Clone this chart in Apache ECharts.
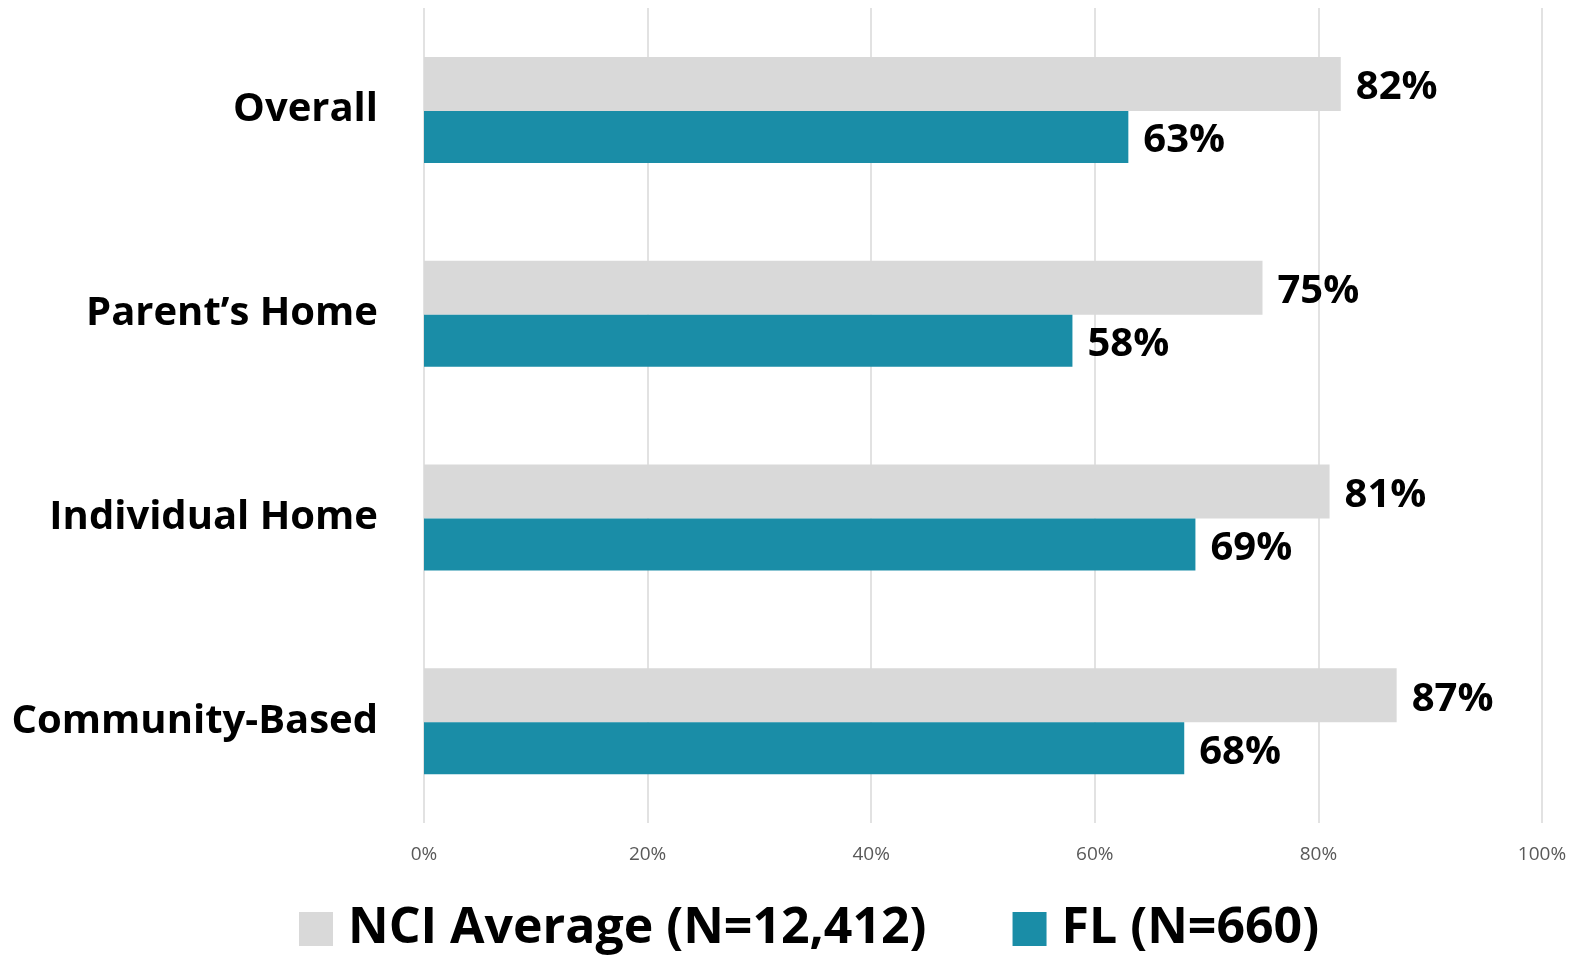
<!DOCTYPE html>
<html>
<head>
<meta charset="utf-8">
<title>NCI Average vs FL</title>
<script src="https://cdn.jsdelivr.net/npm/echarts@6/dist/echarts.min.js"></script>
<style>
    html, body { margin: 0; padding: 0; background: #fff; }
    #chart { width: 1582px; height: 956px; }
</style>
</head>
<body>
<div id="chart"></div>
<script>
    // categories, top to bottom
    var categories = ['Overall', 'Parent\u2019s Home', 'Individual Home', 'Community-Based'];
    var seriesNames = ['NCI Average (N=12,412)', 'FL (N=660)'];
    // percentages
    var nciValues = [82, 75, 81, 87];
    var flValues = [63, 58, 69, 68];
    var xTicks = [0, 20, 40, 60, 80, 100];

    var FONT = '"Open Sans", "DejaVu Sans", sans-serif';

    var myChart = echarts.init(document.getElementById('chart'));

    var labelStyle = {
        show: true,
        position: 'right',
        distance: 15,
        offset: [0, 4],
        formatter: '{c}%',
        color: '#000',
        fontFamily: FONT,
        fontWeight: 'bold',
        fontSize: 40
    };

    var option = {
        animation: false,
        grid: {
            left: 424,
            right: 40,
            top: 8,
            bottom: 133
        },
        legend: {
            left: 294,
            top: 899,
            itemWidth: 34,
            itemHeight: 34,
            itemGap: 86,
            icon: 'rect',
            textStyle: {
                color: '#000',
                fontFamily: FONT,
                fontWeight: 'bold',
                fontSize: 50,
                padding: [0, 0, 0, 10]
            },
            data: seriesNames
        },
        xAxis: {
            type: 'value',
            min: xTicks[0],
            max: xTicks[xTicks.length - 1],
            interval: 20,
            axisLine: { show: false },
            axisTick: { show: false },
            splitLine: {
                show: true,
                lineStyle: { color: '#d9d9d9', width: 1.5 }
            },
            axisLabel: {
                margin: 22,
                color: '#595959',
                fontFamily: FONT,
                fontSize: 19,
                formatter: '{value}%'
            }
        },
        yAxis: {
            type: 'category',
            inverse: true,
            data: categories,
            axisLine: { show: false },
            axisTick: { show: false },
            axisLabel: {
                margin: 46,
                color: '#000',
                fontFamily: FONT,
                fontWeight: 'bold',
                fontSize: 40,
                padding: [6, 0, 0, 0]
            }
        },
        series: [{
                name: seriesNames[0],
                type: 'bar',
                data: nciValues,
                barWidth: 54,
                barGap: '0%',
                itemStyle: { color: '#d9d9d9' },
                label: labelStyle
            },
            {
                name: seriesNames[1],
                type: 'bar',
                data: flValues,
                barWidth: 52,
                barGap: '0%',
                itemStyle: { color: '#1a8da7' },
                label: labelStyle
            }
        ]
    };
    myChart.setOption(option);
</script>
</body>
</html>
